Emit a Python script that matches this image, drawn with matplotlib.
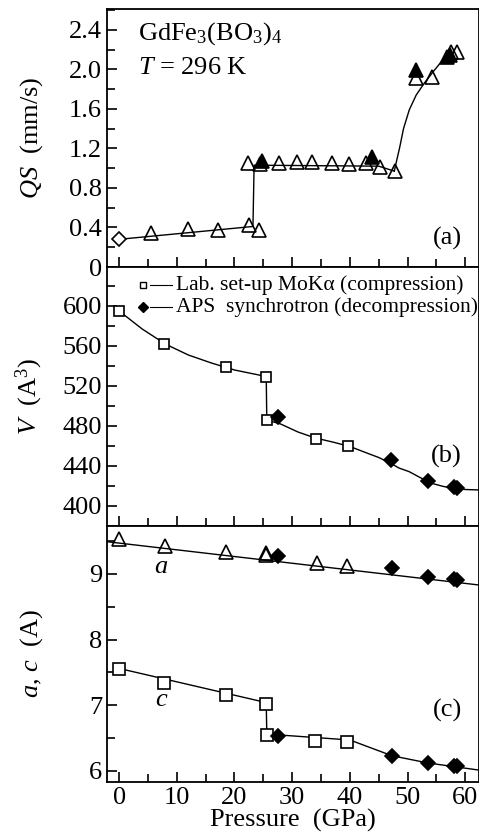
import matplotlib
matplotlib.use("Agg")
import matplotlib.pyplot as plt
from matplotlib.ticker import MultipleLocator

plt.rcParams['font.family'] = ['Liberation Serif', 'DejaVu Serif']
plt.rcParams['mathtext.fontset'] = 'custom'
plt.rcParams['mathtext.rm'] = 'Liberation Serif'
plt.rcParams['mathtext.it'] = 'Liberation Serif:italic'

# ---------- data: panel (a) quadrupole splitting ----------
qs_open_diamond_p = [0.0]
qs_open_diamond_v = [0.28]
qs_open_tri_p = [5.6, 11.9, 17.2, 22.5, 24.3, 22.4, 24.5, 27.8, 30.8, 33.4, 36.9, 39.8, 42.8, 45.3, 47.8, 51.5, 54.3, 57.5, 58.5]
qs_open_tri_v = [0.34, 0.38, 0.37, 0.425, 0.37, 1.056, 1.045, 1.05, 1.06, 1.06, 1.05, 1.04, 1.05, 1.016, 0.975, 1.91, 1.92, 2.17, 2.17]
qs_fill_tri_p = [24.8, 43.8, 51.5, 56.9, 57.3]
qs_fill_tri_v = [1.077, 1.117, 1.99, 2.12, 2.14]
qs_fit1_p = [0.0, 23.2, 23.4, 45.0, 47.7]
qs_fit1_v = [0.28, 0.41, 1.03, 1.02, 0.97]
qs_fit2_p = [47.7, 48.2, 48.6, 49.3, 50.3, 51.5, 52.9, 54.5, 56.6, 57.5]
qs_fit2_v = [0.97, 1.10, 1.20, 1.40, 1.59, 1.74, 1.86, 1.98, 2.13, 2.17]

# ---------- data: panel (b) volume ----------
v_lab_p = [0.0, 7.8, 18.5, 25.5, 25.6, 34.2, 39.6]
v_lab_v = [595, 561.7, 539, 528.7, 486, 467, 460.3]
v_aps_p = [27.6, 47.2, 53.6, 58.1, 58.6]
v_aps_v = [489.3, 446, 425.3, 419, 417.7]
v_fit_p = [0, 4, 8, 12, 16, 20, 25.5, 25.6, 28, 31, 34, 37, 40, 42.8, 45, 47, 48.5, 50.3, 52, 54, 56.1, 58, 60, 62.5]
v_fit_v = [595, 577, 562, 551, 543, 536, 529.5, 486, 482, 474, 468, 464, 459.5, 453.3, 448.5, 443, 438, 434.3, 429, 423, 419.7, 417.5, 416.5, 416]

# ---------- data: panel (c) lattice parameters ----------
a_lab_p = [0.0, 7.9, 18.5, 25.5, 25.5, 34.3, 39.5]
a_lab_v = [9.53, 9.42, 9.33, 9.32, 9.29, 9.16, 9.12]
a_aps_p = [27.6, 47.3, 53.6, 58.1, 58.6]
a_aps_v = [9.28, 9.09, 8.95, 8.92, 8.91]
a_fit_p = [-2.0, 62.5]
a_fit_v = [9.49, 8.83]
c_lab_p = [0.0, 7.8, 18.5, 25.5, 25.6, 34.0, 39.5]
c_lab_v = [7.55, 7.34, 7.16, 7.02, 6.55, 6.45, 6.44]
c_aps_p = [27.5, 47.3, 53.5, 58.1, 58.6]
c_aps_v = [6.53, 6.23, 6.12, 6.08, 6.07]
c_fit_p = [0.0, 25.5, 25.6, 40.0, 47.3, 53.5, 62.5]
c_fit_v = [7.56, 7.04, 6.56, 6.47, 6.23, 6.12, 6.01]

fig = plt.figure(figsize=(4.79, 8.40), dpi=100)
L, R = 107/479, 0.999
def frac(y):
    return 1 - y/840
axa = fig.add_axes([L, frac(267), R-L, frac(9)-frac(267)])
axb = fig.add_axes([L, frac(526), R-L, frac(267)-frac(526)])
axc = fig.add_axes([L, frac(782), R-L, frac(526)-frac(782)])

FS = 19
for ax in (axa, axb, axc):
    ax.set_xlim(-2.1, 62.3)
    ax.xaxis.set_major_locator(MultipleLocator(10))
    ax.xaxis.set_minor_locator(MultipleLocator(5))
    ax.tick_params(which='both', direction='in', top=False, right=False, width=1.2, labelsize=FS)
    ax.tick_params(which='major', length=7)
    ax.tick_params(which='minor', length=5.5)
    for s in ax.spines.values():
        s.set_linewidth(1.3)
    if ax is not axc:
        ax.tick_params(labelbottom=False)

lw = 1.0
mk = dict(linestyle='none', mew=1.2)

# panel (a)
axa.plot(qs_fit1_p, qs_fit1_v, 'k-', lw=lw)
axa.plot(qs_fit2_p, qs_fit2_v, 'k-', lw=lw)
axa.plot(qs_open_diamond_p, qs_open_diamond_v, marker='D', ms=7, mfc='white', mec='k', **mk)
axa.plot(qs_open_tri_p, qs_open_tri_v, marker='^', ms=10, mfc='none', mec='k', **mk)
axa.plot(qs_fill_tri_p, qs_fill_tri_v, marker='^', ms=10, mfc='k', mec='k', **mk)
axa.set_ylim(0, 2.61)
axa.yaxis.set_minor_locator(MultipleLocator(0.2))
axa.set_yticks([0, 0.4, 0.8, 1.2, 1.6, 2.0, 2.4])
axa.set_yticklabels(['0', '0.4', '0.8', '1.2', '1.6', '2.0', '2.4'])
axa.set_ylabel(r'$QS$  (mm/s)', fontsize=FS)
axa.text(0.083, 0.88, r'GdFe$_3$(BO$_3$)$_4$', transform=axa.transAxes, fontsize=FS)
axa.text(0.083, 0.748, r'$T$ = 296 K', transform=axa.transAxes, fontsize=FS)
axa.text(0.955, 0.11, '(a)', transform=axa.transAxes, fontsize=FS, ha='right', va='center')

# panel (b)
axb.plot(v_fit_p, v_fit_v, 'k-', lw=lw)
axb.plot(v_lab_p, v_lab_v, marker='s', ms=7.5, mfc='white', mec='k', **mk)
axb.plot(v_aps_p, v_aps_v, marker='D', ms=7.5, mfc='k', mec='k', **mk)
axb.set_ylim(380, 639)
axb.yaxis.set_major_locator(MultipleLocator(40))
axb.yaxis.set_minor_locator(MultipleLocator(20))
axb.set_ylabel(r'$V$  (A$^3$)', fontsize=FS)
axb.text(0.955, 0.27, '(b)', transform=axb.transAxes, fontsize=FS, ha='right', va='center')
# legend (marker + short line + text)
for yy, mkr, fc, lab in [(621, 's', 'white', 'Lab. set-up MoK\u03b1 (compression)'),
                          (599.3, 'D', 'k', 'APS  synchrotron (decompression)')]:
    axb.plot([4.1], [yy], marker=mkr, ms=5, mfc=fc, mec='k', linestyle='none', mew=1.0)
    axb.plot([5.3, 9.2], [yy, yy], 'k-', lw=0.8)
    axb.text(9.9, yy, lab, fontsize=15.5, va='center', ha='left')

# panel (c)
axc.plot(a_fit_p, a_fit_v, 'k-', lw=lw)
axc.plot(c_fit_p, c_fit_v, 'k-', lw=lw)
axc.plot(a_lab_p, a_lab_v, marker='^', ms=10, mfc='none', mec='k', **mk)
axc.plot(a_aps_p, a_aps_v, marker='D', ms=7.5, mfc='k', mec='k', **mk)
axc.plot(c_lab_p, c_lab_v, marker='s', ms=9, mfc='white', mec='k', **mk)
axc.plot(c_aps_p, c_aps_v, marker='D', ms=7.5, mfc='k', mec='k', **mk)
axc.set_ylim(5.83, 9.73)
axc.yaxis.set_major_locator(MultipleLocator(1))
axc.yaxis.set_minor_locator(MultipleLocator(0.5))
axc.set_ylabel(r'$a$, $c$  (A)', fontsize=FS)
axc.text(7.3, 9.11, r'$a$', fontsize=FS, ha='center', va='center')
axc.text(7.3, 7.08, r'$c$', fontsize=FS, ha='center', va='center')
axc.text(0.955, 0.28, '(c)', transform=axc.transAxes, fontsize=FS, ha='right', va='center')
axc.set_xlabel('Pressure  (GPa)', fontsize=FS, labelpad=0)

for ax in (axa, axb, axc):
    ax.yaxis.set_label_coords(-0.168, 0.5)

fig.savefig('out.png', dpi=100)
